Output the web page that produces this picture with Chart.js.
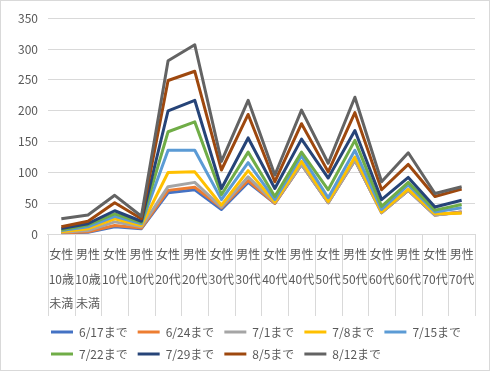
<!DOCTYPE html>
<html>
<head>
<meta charset="utf-8">
<script src="https://cdn.jsdelivr.net/npm/chart.js@4.4.1/dist/chart.umd.min.js"></script>
<style>
    body { margin: 0; background: #fff; }
    #wrap { width: 490px; height: 371px; box-sizing: border-box; border: 1px solid #d9d9d9; }
</style>
</head>
<body>
<div id="wrap"><canvas id="grafico" width="488" height="369"></canvas></div>
<script>
// 性別・年代ごとの累計
const categorias = [
    ['女性', '10歳', '未満'], ['男性', '10歳', '未満'],
    ['女性', '10代'], ['男性', '10代'],
    ['女性', '20代'], ['男性', '20代'],
    ['女性', '30代'], ['男性', '30代'],
    ['女性', '40代'], ['男性', '40代'],
    ['女性', '50代'], ['男性', '50代'],
    ['女性', '60代'], ['男性', '60代'],
    ['女性', '70代'], ['男性', '70代']
];

const rotulos = ['6/17まで', '6/24まで', '7/1まで', '7/8まで', '7/15まで', '7/22まで', '7/29まで', '8/5まで', '8/12まで'];

const ate0617 = [2, 3, 12, 9, 67, 72, 40, 84, 50, 113, 51, 120, 35, 71, 31, 36];
const ate0624 = [2, 4, 14, 10, 71, 76, 43, 87, 50, 113, 51, 120, 35, 71, 31, 36];
const ate0701 = [3, 6, 20, 12, 77, 84, 44, 93, 51, 113, 51, 120, 35, 71, 31, 35];
const ate0708 = [4, 9, 25, 14, 100, 101, 47, 103, 52, 118, 53, 125, 36, 73, 33, 34];
const ate0715 = [6, 12, 29, 17, 136, 136, 56, 116, 56, 127, 59, 136, 40, 80, 36, 43];
const ate0722 = [7, 15, 33, 19, 166, 182, 64, 133, 61, 133, 72, 152, 45, 84, 39, 48];
const ate0729 = [9, 17, 38, 21, 200, 217, 74, 156, 74, 154, 91, 168, 56, 92, 44, 55];
const ate0805 = [12, 21, 51, 25, 249, 264, 104, 194, 85, 179, 101, 197, 72, 113, 61, 73];
const ate0812 = [25, 31, 63, 29, 281, 307, 118, 217, 96, 201, 115, 222, 85, 132, 66, 77];

const series = [ate0617, ate0624, ate0701, ate0708, ate0715, ate0722, ate0729, ate0805, ate0812];
const cores = ['#4472C4', '#ED7D31', '#A5A5A5', '#FFC000', '#5B9BD5', '#70AD47', '#264478', '#9E480E', '#636363'];

const fonte = '"Noto Sans CJK JP", "Noto Sans", sans-serif';
const cinzaTexto = '#595959';
const cinzaGrade = '#d9d9d9';

const datasets = series.map((valores, i) => ({
    label: rotulos[i],
    data: valores,
    borderColor: cores[i],
    backgroundColor: cores[i],
    borderWidth: 3,
    borderJoinStyle: 'round',
    pointRadius: 0,
    tension: 0,
    order: -i // séries posteriores por cima, como no Excel
}));

// linhas verticais entre as categorias, atravessando a área dos rótulos
const separadores = {
    id: 'separadores',
    afterDraw(chart) {
        const eixo = chart.scales.x;
        const n = eixo.ticks.length;
        const meio = (eixo.getPixelForTick(1) - eixo.getPixelForTick(0)) / 2;
        const ctx = chart.ctx;
        ctx.save();
        ctx.strokeStyle = cinzaGrade;
        ctx.lineWidth = 1;
        ctx.beginPath();
        for (let i = 0; i <= n; i++) {
            const px = Math.round(i < n ? eixo.getPixelForTick(i) - meio : eixo.getPixelForTick(n - 1) + meio) + 0.5;
            ctx.moveTo(px, eixo.top);
            ctx.lineTo(px, eixo.bottom);
        }
        ctx.stroke();
        ctx.restore();
    }
};

// legenda começa perto da borda esquerda da área do gráfico
const legendaDeslocada = {
    id: 'legendaDeslocada',
    afterLayout(chart) {
        chart.legend.left = chart.chartArea.left - 7;
        chart.legend.right = chart.width;
    }
};

new Chart(document.getElementById('grafico').getContext('2d'), {
    type: 'line',
    data: { labels: categorias, datasets: datasets },
    plugins: [separadores, legendaDeslocada],
    options: {
        responsive: false,
        animation: false,
        layout: { padding: { top: 14, left: 7, right: 14, bottom: 0 } },
        plugins: {
            tooltip: { enabled: false },
            legend: {
                position: 'bottom',
                align: 'start',
                labels: {
                    sort: (a, b) => a.datasetIndex - b.datasetIndex,
                    usePointStyle: true,
                    pointStyle: 'line',
                    pointStyleWidth: 22,
                    boxHeight: 12,
                    padding: 10,
                    color: cinzaTexto,
                    font: { family: fonte, size: 12 }
                }
            }
        },
        scales: {
            x: {
                offset: true,
                grid: { display: false },
                border: { color: cinzaGrade },
                ticks: {
                    autoSkip: false,
                    maxRotation: 0,
                    minRotation: 0,
                    padding: 0,
                    color: cinzaTexto,
                    font: { family: fonte, size: 12, lineHeight: 2.05 }
                }
            },
            y: {
                min: 0,
                max: 350,
                ticks: {
                    stepSize: 50,
                    padding: 10,
                    color: cinzaTexto,
                    font: { family: fonte, size: 12 }
                },
                grid: { color: cinzaGrade, drawTicks: false },
                border: { display: false }
            }
        }
    }
});
</script>
</body>
</html>
